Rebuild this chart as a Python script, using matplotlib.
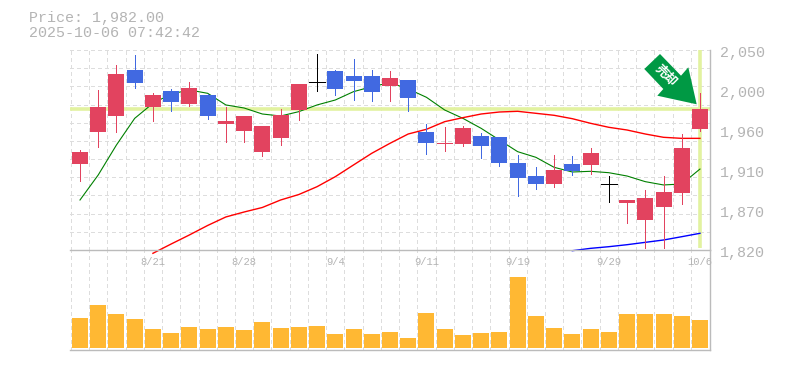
import numpy as np
import matplotlib
matplotlib.use('Agg')
import matplotlib.pyplot as plt
from matplotlib.patches import Polygon
from matplotlib.transforms import IdentityTransform

# Daily prices
opens = [1919, 1956, 1974, 2027, 1984.5, 2003, 1988, 1998, 1965, 1957, 1933, 1949, 1981, 2013, 2026, 2020, 2020, 2009,
         2015.5, 1956, 1942, 1942, 1951, 1950, 1920, 1905, 1896, 1919, 1918, 1895.5, 1874, 1854.5, 1869.5, 1885.5, 1959]
closes = [1933, 1984.5, 2022, 2012, 1998, 1990, 2006, 1974, 1968, 1974, 1962.5, 1975, 2011, 2013, 2005, 2014, 2002, 2018,
          1995, 1943, 1943, 1960, 1939.5, 1920, 1903, 1896, 1912, 1911, 1931.5, 1895.5, 1877.5, 1880, 1887, 1937, 1982]
highs = [1935, 2004, 2033, 2044, 2001, 2005, 2013, 1999.5, 1984.5, 1974, 1962.5, 1982, 2011, 2045.5, 2027, 2040, 2027, 2026,
         2015.5, 1965, 1961.5, 1962.5, 1954.5, 1950, 1929, 1915.5, 1929, 1928, 1937, 1905, 1877.5, 1889, 1905, 1953.5, 2000.5]
lows = [1899, 1938, 1956, 2006, 1968, 1980, 1985.5, 1970.5, 1944, 1944, 1928, 1941, 1969.5, 2003, 1998, 1992.5, 1991, 1991,
        1980, 1930.5, 1934, 1939.5, 1926, 1916.5, 1882, 1890, 1892.5, 1906, 1907.5, 1875, 1851, 1822, 1822, 1873, 1957]

# Moving averages, the longer ones start later
ma_short = [1877.5, 1906.3, 1940.8, 1971.4, 1988.7, 1999.4, 2004, 2000.2, 1986.8, 1983.3, 1976.4, 1974.1, 1979.1, 1986.8,
            1992.5, 2002.1, 2007.8, 2012.4, 2005.2, 1995.6, 1981, 1971.4, 1959.9, 1946.5, 1933.1, 1926.6, 1915.1, 1909.7,
            1910.5, 1908.9, 1905.1, 1898.6, 1894.8, 1895.9, 1913.1]
ma_mid = [1816.2, 1826.9, 1837.3, 1848.2, 1858, 1863.7, 1868.9, 1877.5, 1883.8, 1892.8, 1904.3, 1917.8, 1931.2, 1942.7,
          1953.4, 1958.8, 1967.6, 1972.2, 1976.4, 1978.7, 1979.5, 1977.2, 1974.9, 1971, 1965.7, 1961.1, 1958, 1953.4,
          1949.6, 1948.4, 1948.4]
ma_long = [1819.2, 1821.9, 1823.8, 1826.1, 1828.8, 1831.5, 1835.3, 1839.2]

volumes = [30.3, 43.3, 34.3, 29.3, 19.3, 15.3, 21.3, 19.3, 21.3, 18.3, 26.3, 20.3, 21.3, 22.3, 14.3, 19.3, 14.3, 16.3,
           10.3, 35.3, 19.3, 13.3, 15.3, 16.3, 71.3, 32.3, 20.3, 14.3, 19.3, 16.3, 34.3, 34.3, 34.3, 32.3, 28.3]

date_idx = [4, 9, 14, 19, 24, 29, 34]
date_labels = ['8/21', '8/28', '9/4', '9/11', '9/19', '9/29', '10/6']
price_labels = ['2,050', '2,000', '1,960', '1,910', '1,870', '1,820']
last_price = 1982
header = ['Price: 1,982.00', '2025-10-06 07:42:42']
signal_text = '売却'

RED = '#e2435f'
BLUE = '#4169e1'
GREY = '#b4b4b4'
GRID = '#dddddd'
PALE = '#e2f2a0'
W, H = 785, 370
MONO = 'Liberation Mono'

fig = plt.figure(figsize=(W / 100, H / 100), dpi=100)

# axes positions in pixels from the top left
def rect(x0, y0, x1, y1):
    return [x0 / W, 1 - y1 / H, (x1 - x0) / W, (y1 - y0) / H]

ax_vol = fig.add_axes(rect(70, 250, 710, 350))
ax = fig.add_axes(rect(70, 50, 710, 250), zorder=3)
ax.patch.set_alpha(0)

n = len(closes)
x = np.arange(n)
xlim = (-0.548, 34.55)
grid_x = x[:] - 0.5
grid_y = np.linspace(2050, 1820, 12)

for a in (ax, ax_vol):
    a.set_xlim(xlim)
    a.set_xticks(grid_x)
    a.tick_params(length=0, labelbottom=False, labelleft=False)
    a.grid(axis='x', color=GRID, lw=0.72, ls=(0, (3, 3)), antialiased=False)
    a.set_axisbelow(True)
    for s in ('top', 'left'):
        a.spines[s].set_visible(False)
    for s in ('bottom', 'right'):
        a.spines[s].set_color('#bbbbbb')
        a.spines[s].set_linewidth(1.0)

ax.set_ylim(1820, 2050)
ax.set_yticks(grid_y)
ax.grid(axis='y', color=GRID, lw=0.72, ls=(0, (3, 3)), antialiased=False)

ax.axhline(last_price, color=PALE, lw=2.6, zorder=1.5)
ax.vlines(n - 1, 1822, 2050, color=PALE, lw=2.6, zorder=1.5)

ax.plot(x, ma_short, color='#008000', lw=0.8, zorder=2, clip_on=False)
ax.plot(x[n - len(ma_mid):], ma_mid, color='#ff0000', lw=1.0, zorder=2, clip_on=False)
ax.plot(x[n - len(ma_long):], ma_long, color='#0000ff', lw=1.0, zorder=2, clip_on=False)

width = 16 / 18.235
for i in range(n):
    if opens[i] == closes[i]:
        c = 'black'
    elif closes[i] > opens[i]:
        c = RED
    else:
        c = BLUE
    ax.vlines(i, lows[i], highs[i], color=c, lw=0.72, zorder=3, antialiased=False)
    if opens[i] == closes[i]:
        ax.hlines(opens[i], i - width / 2, i + width / 2, color=c, lw=0.72, zorder=3, antialiased=False)
    else:
        ax.bar(i, abs(closes[i] - opens[i]), bottom=min(opens[i], closes[i]), width=width, color=c, zorder=4)

ax_vol.bar(x, volumes, width=width, color='#ffb833', zorder=3)
ax_vol.set_ylim(-1.7, 98.3)

# price labels sit 3px under their level, to the right of the frame
for lab, p in zip(price_labels, np.linspace(2050, 1820, len(price_labels))):
    ax.annotate(lab, xy=(1, p), xycoords=('axes fraction', 'data'), xytext=(7.2, -2.2), textcoords='offset points',
                ha='left', va='center', family=MONO, fontsize=10.8, color=GREY, annotation_clip=False)

for i, lab in zip(date_idx, date_labels):
    ax.annotate(lab, xy=(i, 0), xycoords=('data', 'axes fraction'), xytext=(0, -8.5), textcoords='offset points',
                ha='center', va='center', family=MONO, fontsize=7.6, color=GREY, annotation_clip=False)

fig.text(29 / W, 1 - 18 / H, header[0], family=MONO, fontsize=10.8, color=GREY, va='center')
fig.text(29 / W, 1 - 33 / H, header[1], family=MONO, fontsize=10.8, color=GREY, va='center')

# signal arrow, in pixels
arrow = [(660, 54), (644.3, 69), (663.3, 89), (657.3, 95.7), (696.7, 104.3), (688.3, 67.3), (681, 75.7)]
fig.add_artist(Polygon([(px, H - py) for px, py in arrow], closed=True, facecolor='#009944', edgecolor='none',
                       transform=IdentityTransform(), zorder=6))
fig.text(666 / W, 1 - 75.5 / H, signal_text, family='Noto Sans CJK JP', weight='bold', fontsize=9, color='white',
         rotation=-45, ha='center', va='center', zorder=7)

fig.savefig('out.png', dpi=100)
